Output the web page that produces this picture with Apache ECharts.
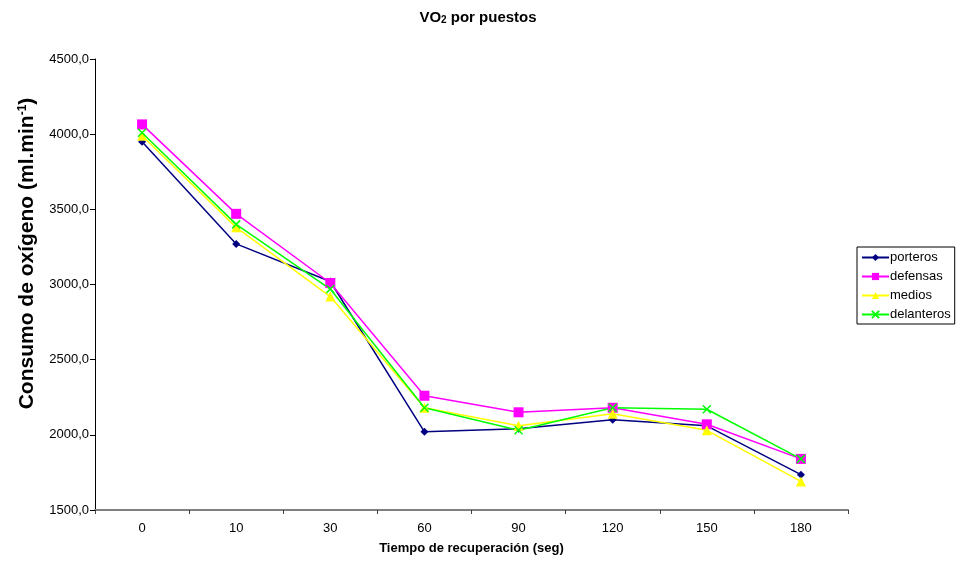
<!DOCTYPE html>
<html>
<head>
<meta charset="utf-8">
<script src="https://cdn.jsdelivr.net/npm/echarts@6/dist/echarts.min.js"></script>
<style>
  html, body { margin: 0; padding: 0; background: #fff; }
  #chart { width: 956px; height: 563px; }
</style>
</head>
<body>
<div id="chart"></div>
<script>
// Recovery time points (seconds)
const categories = ['0', '10', '30', '60', '90', '120', '150', '180'];

// Oxygen consumption by playing position (ml·min⁻¹)
const porteros   = [3950, 3270, 3020, 2020, 2040, 2100, 2060, 1735];
const defensas   = [4065, 3470, 3010, 2260, 2150, 2180, 2070, 1840];
const medios     = [3990, 3380, 2920, 2180, 2060, 2140, 2030, 1690];
const delanteros = [4010, 3400, 2970, 2180, 2030, 2180, 2170, 1840];

const yMin = 1500, yMax = 4500, yStep = 500;

const font = 'Liberation Sans, Arial, sans-serif';
const crossPath = 'path://M0,0L10,10M10,0L0,10';

function makeSeries(name, data, color, symbol, size, extra) {
  return Object.assign({
    name: name,
    type: 'line',
    data: data,
    symbol: symbol,
    symbolSize: size,
    showAllSymbol: true,
    lineStyle: { color: color, width: 1.5 },
    itemStyle: { color: color },
    emphasis: { disabled: true },
    animation: false
  }, extra || {});
}

const chart = echarts.init(document.getElementById('chart'));
chart.setOption({
  backgroundColor: '#fff',
  title: {
    text: 'VO{sub|2} por puestos',
    left: 'center',
    top: 5,
    textStyle: {
      fontFamily: font, fontSize: 15, fontWeight: 'bold', color: '#000',
      rich: {
        sub: { fontFamily: font, fontSize: 10, fontWeight: 'bold', color: '#000', verticalAlign: 'bottom', padding: [5, 0, 0, 0] }
      }
    }
  },
  legend: {
    orient: 'vertical',
    left: 857,
    top: 247,
    itemWidth: 27,
    itemHeight: 9,
    itemGap: 6,
    padding: [4, 4, 3, 4],
    borderColor: '#000',
    borderWidth: 1,
    borderRadius: 0,
    textStyle: { fontFamily: font, fontSize: 13, color: '#000', padding: [0, 0, 0, -4] },
    data: ['porteros', 'defensas', 'medios', 'delanteros']
  },
  grid: { left: 95, right: 108, top: 59, bottom: 53 },
  xAxis: {
    type: 'category',
    data: categories,
    boundaryGap: true,
    name: 'Tiempo de recuperación (seg)',
    nameLocation: 'middle',
    nameGap: 32,
    nameTextStyle: { fontFamily: font, fontSize: 13, fontWeight: 'bold', color: '#000' },
    axisLine: { lineStyle: { color: '#808080', width: 2 } },
    axisTick: { show: true, length: 4, lineStyle: { color: '#404040' } },
    axisLabel: { fontFamily: font, fontSize: 13, color: '#000', margin: 12 },
    splitLine: { show: false }
  },
  yAxis: {
    type: 'value',
    min: yMin,
    max: yMax,
    interval: yStep,
    name: 'Consumo de oxígeno (ml.min{sup|-1})',
    nameLocation: 'middle',
    nameGap: 57,
    nameRotate: 90,
    nameTextStyle: {
      fontFamily: font, fontSize: 21, fontWeight: 'bold', color: '#000',
      padding: [0, 0, 0, 62],
      rich: {
        sup: { fontFamily: font, fontSize: 12, fontWeight: 'bold', color: '#000', verticalAlign: 'top', padding: [0, 0, 8, 0] }
      }
    },
    axisLine: { show: true, lineStyle: { color: '#000', width: 1 } },
    axisTick: { show: true, length: 5, lineStyle: { color: '#000' } },
    axisLabel: {
      fontFamily: font, fontSize: 13, color: '#000', margin: 6,
      formatter: v => v.toFixed(1).replace('.', ',')
    },
    splitLine: { show: false }
  },
  series: [
    makeSeries('porteros', porteros, '#000080', 'diamond', 8),
    makeSeries('defensas', defensas, '#FF00FF', 'rect', 10),
    makeSeries('medios', medios, '#FFFF00', 'triangle', 10),
    makeSeries('delanteros', delanteros, '#00FF00', crossPath, 8, {
      itemStyle: { color: '#00FF00', borderColor: '#00FF00', borderWidth: 1.5 }
    })
  ]
});
</script>
</body>
</html>
